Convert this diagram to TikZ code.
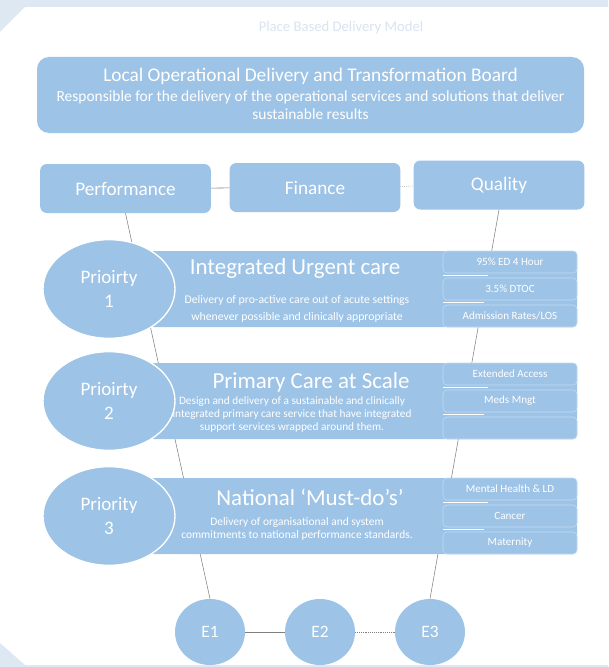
\documentclass[tikz,border=0pt]{standalone}
\usepackage{fontspec}
\setmainfont{Carlito}
\usetikzlibrary{shapes.geometric}
\definecolor{boxblue}{HTML}{9DC3E6}
\definecolor{frameblue}{HTML}{DEE8F3}
\definecolor{titleblue}{HTML}{D9E4F1}
\definecolor{linegray}{HTML}{7F7F7F}
\tikzset{
  bigbox/.style={fill=boxblue, rounded corners=9pt, text=white, align=center, inner sep=0pt},
  pillar/.style={fill=boxblue, rounded corners=5pt, text=white, inner sep=0pt, minimum height=36.75pt, minimum width=128pt, font=\fontsize{14.4}{16}\selectfont},
  band/.style={fill=boxblue, rounded corners=3pt, inner sep=0pt, minimum width=320.25pt, minimum height=57pt},
  subbox/.style={fill=boxblue, draw=white!40!boxblue, line width=0.4pt, rounded corners=3pt, text=white, inner sep=0pt, minimum width=100.5pt, minimum height=16.5pt, font=\fontsize{8.3}{9}\selectfont},
  prio/.style={ellipse, fill=boxblue, draw=white, line width=1pt, text=white, align=center, inner sep=0pt, minimum width=99pt, minimum height=74pt, font=\fontsize{14.3}{18}\selectfont},
  ecirc/.style={ellipse, fill=boxblue, text=white, inner sep=0pt, minimum width=52.5pt, minimum height=49.5pt, font=\fontsize{13}{15}\selectfont},
  btitle/.style={text=white, inner sep=0pt, font=\fontsize{17.2}{19}\selectfont},
  bdesc/.style={text=white, inner sep=0pt, align=center},
  wtext/.style={text=white, inner sep=0pt},
  conn/.style={draw=linegray, line width=0.4pt},
  sep/.style={draw=white, line width=1.2pt}
}
\begin{document}
\begin{tikzpicture}[x=0.75pt,y=-0.75pt]
\useasboundingbox (0,0) rectangle (608,667);
\fill[white] (0,0) rectangle (608,667);
\fill[frameblue] (0,0) -- (608,0) -- (608,7) -- (25,7) -- (0,32) -- cycle;
\fill[frameblue] (0,643) -- (25,665) -- (608,665) -- (608,667) -- (0,667) -- cycle;

\node[text=titleblue, font=\fontsize{11}{13}\selectfont] (title) at (341,28) {Place Based Delivery Model};

\node[bigbox, minimum width=410.25pt, minimum height=57pt] (board) at (310.5,95) {};
\node[wtext, font=\fontsize{14.5}{16}\selectfont] (boardt) at (310.5,76) {Local Operational Delivery and Transformation Board};
\node[wtext, font=\fontsize{11.6}{13}\selectfont] (boards1) at (310.5,97) {Responsible for the delivery of the operational services and solutions that deliver};
\node[wtext, font=\fontsize{11.6}{13}\selectfont] (boards2) at (310.5,114) {sustainable results};

\node[pillar] (perf) at (125.5,188.5) {Performance};
\node[pillar] (fin) at (315,187.5) {Finance};
\node[pillar] (qual) at (499,185) {Quality};
\draw[conn] (perf) -- (fin);
\draw[conn, densely dotted] (fin) -- (qual);

\node[ecirc] (e1) at (210,632) {E1};
\node[ecirc] (e2) at (320,632) {E2};
\node[ecirc] (e3) at (430,632) {E3};
\draw[conn] (e1) -- (e2);
\draw[conn, densely dotted] (e2) -- (e3);

\draw[conn] (perf.south) -- (e1.north);
\draw[conn] (qual.south) -- (e3.north);

% Priority 1
\node[band] (band1) at (363.5,289) {};
\node[subbox] (s11) at (510,262) {95\% ED 4 Hour};
\node[subbox] (s12) at (510,289) {3.5\% DTOC};
\node[subbox] (s13) at (510,316) {Admission Rates/LOS};
\draw[sep] (443,275.5) -- (488,275.5);
\draw[sep] (443,302.5) -- (484,302.5);
\node[prio] (p1) at (109,289) {Prioirty\\1};
\node[btitle] (t1) at (295,269) {Integrated Urgent care};
\node[bdesc, font=\fontsize{8.8}{12.75}\selectfont] (d1) at (297,308.5)
  {Delivery of pro-active care out of acute settings\\whenever possible and clinically appropriate};

% Priority 2
\node[band] (band2) at (363.5,401) {};
\node[subbox] (s21) at (510,374) {Extended Access};
\node[subbox] (s22) at (510,401) {Meds Mngt};
\node[subbox] (s23) at (510,428) {};
\draw[sep] (443,387.5) -- (488,387.5);
\draw[sep] (443,414.5) -- (484,414.5);
\node[prio] (p2) at (109,401) {Prioirty\\2};
\node[btitle] (t2) at (311,382) {Primary Care at Scale};
\node[bdesc, font=\fontsize{8.5}{9.75}\selectfont] (d2) at (292,414)
  {Design and delivery of a sustainable and clinically\\integrated primary care service that have integrated\\support services wrapped around them.};

% Priority 3
\node[band] (band3) at (363.5,516) {};
\node[subbox] (s31) at (510,489) {Mental Health \& LD};
\node[subbox] (s32) at (510,516) {Cancer};
\node[subbox] (s33) at (510,543) {Maternity};
\draw[sep] (443,502.5) -- (488,502.5);
\draw[sep] (443,529.5) -- (484,529.5);
\node[prio] (p3) at (109,516) {Priority\\3};
\node[btitle] (t3) at (310,497) {National ‘Must-do’s’};
\node[bdesc, font=\fontsize{8.6}{9.75}\selectfont] (d3) at (297,528.5)
  {Delivery of organisational and system\\commitments to national performance standards.};
\end{tikzpicture}
\end{document}
